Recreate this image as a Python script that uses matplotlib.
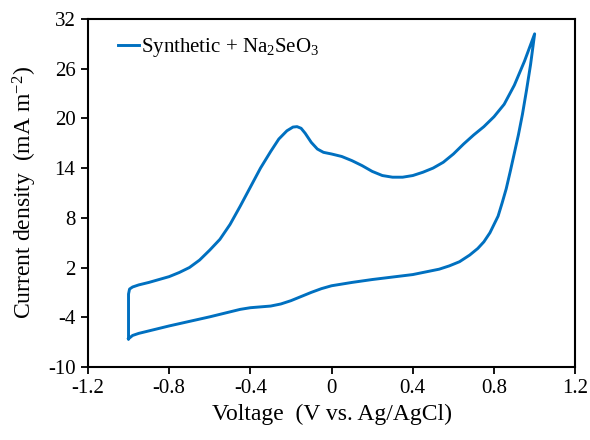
import matplotlib.pyplot as plt
import numpy as np

plt.rcParams['font.family'] = 'Liberation Serif'
plt.rcParams['mathtext.fontset'] = 'custom'
plt.rcParams['mathtext.rm'] = 'Liberation Serif'
plt.rcParams['mathtext.it'] = 'Liberation Serif:italic'
plt.rcParams['axes.unicode_minus'] = False

# anodic sweep (-1.0 V -> 1.0 V)
v_fwd = [-1.0, -1.0, -0.995, -0.98, -0.95, -0.9, -0.85, -0.8, -0.75, -0.7,
         -0.65, -0.6, -0.55, -0.5, -0.45, -0.4, -0.35, -0.3, -0.26, -0.22,
         -0.19, -0.17, -0.15, -0.13, -0.1, -0.07, -0.04, 0.0, 0.05, 0.1,
         0.15, 0.2, 0.25, 0.3, 0.35, 0.4, 0.45, 0.5, 0.55, 0.6,
         0.65, 0.7, 0.75, 0.8, 0.85, 0.9, 0.95, 1.0]
j_fwd = [-6.6, -1.2, -0.6, -0.35, -0.1, 0.2, 0.55, 0.9, 1.4, 2.0,
         2.9, 4.1, 5.4, 7.2, 9.4, 11.7, 14.0, 16.0, 17.5, 18.5,
         18.95, 19.0, 18.8, 18.2, 17.1, 16.3, 15.9, 15.7, 15.4, 14.9,
         14.3, 13.6, 13.1, 12.9, 12.9, 13.1, 13.5, 14.0, 14.7, 15.7,
         16.9, 18.0, 19.0, 20.2, 21.7, 24.0, 26.9, 30.2]

# cathodic sweep (1.0 V -> -1.0 V)
v_rev = [1.0, 0.98, 0.96, 0.94, 0.92, 0.9, 0.88, 0.86, 0.84, 0.82,
         0.8, 0.78, 0.75, 0.72, 0.68, 0.63, 0.58, 0.53, 0.45, 0.4,
         0.3, 0.2, 0.1, 0.0, -0.05, -0.1, -0.15, -0.2, -0.25, -0.3,
         -0.35, -0.4, -0.45, -0.5, -0.6, -0.7, -0.8, -0.9, -0.95, -0.98, -1.0]
j_rev = [30.2, 26.5, 23.4, 20.5, 18.0, 15.8, 13.6, 11.5, 9.8, 8.2,
         7.2, 6.2, 5.1, 4.3, 3.5, 2.7, 2.2, 1.8, 1.4, 1.15,
         0.85, 0.55, 0.2, -0.2, -0.55, -1.0, -1.5, -2.0, -2.4, -2.65,
         -2.75, -2.85, -3.05, -3.35, -3.95, -4.5, -5.05, -5.65, -5.95, -6.2, -6.6]

v = np.array(v_fwd + v_rev)
j = np.array(j_fwd + j_rev)

fig = plt.figure(figsize=(5.9, 4.4), dpi=100)
ax = fig.add_axes([0.149, 0.166, 0.826, 0.791])

ax.plot(v, j, color='#0070C0', lw=2.1, solid_joinstyle='round',
        label=r'Synthetic + Na$_2$SeO$_3$')

ax.set_xlim(-1.2, 1.2)
ax.set_ylim(-10, 32)
ax.set_xticks([-1.2, -0.8, -0.4, 0, 0.4, 0.8, 1.2])
ax.set_xticklabels(['-1.2', '-0.8', '-0.4', '0', '0.4', '0.8', '1.2'])
ax.set_yticks([-10, -4, 2, 8, 14, 20, 26, 32])
ax.tick_params(labelsize=15, direction='out', length=5, width=1.3, pad=4)
for s in ax.spines.values():
    s.set_linewidth(1.5)

ax.set_xlabel('Voltage  (V vs. Ag/AgCl)', size=17)
ax.set_ylabel(r'Current density  (mA m$^{-2}$)', size=17, labelpad=6)

ax.legend(loc='upper left', bbox_to_anchor=(0.045, 0.975), borderaxespad=0,
          frameon=False, fontsize=15, handlelength=1.0, handletextpad=0.1)

plt.savefig('out.png')
